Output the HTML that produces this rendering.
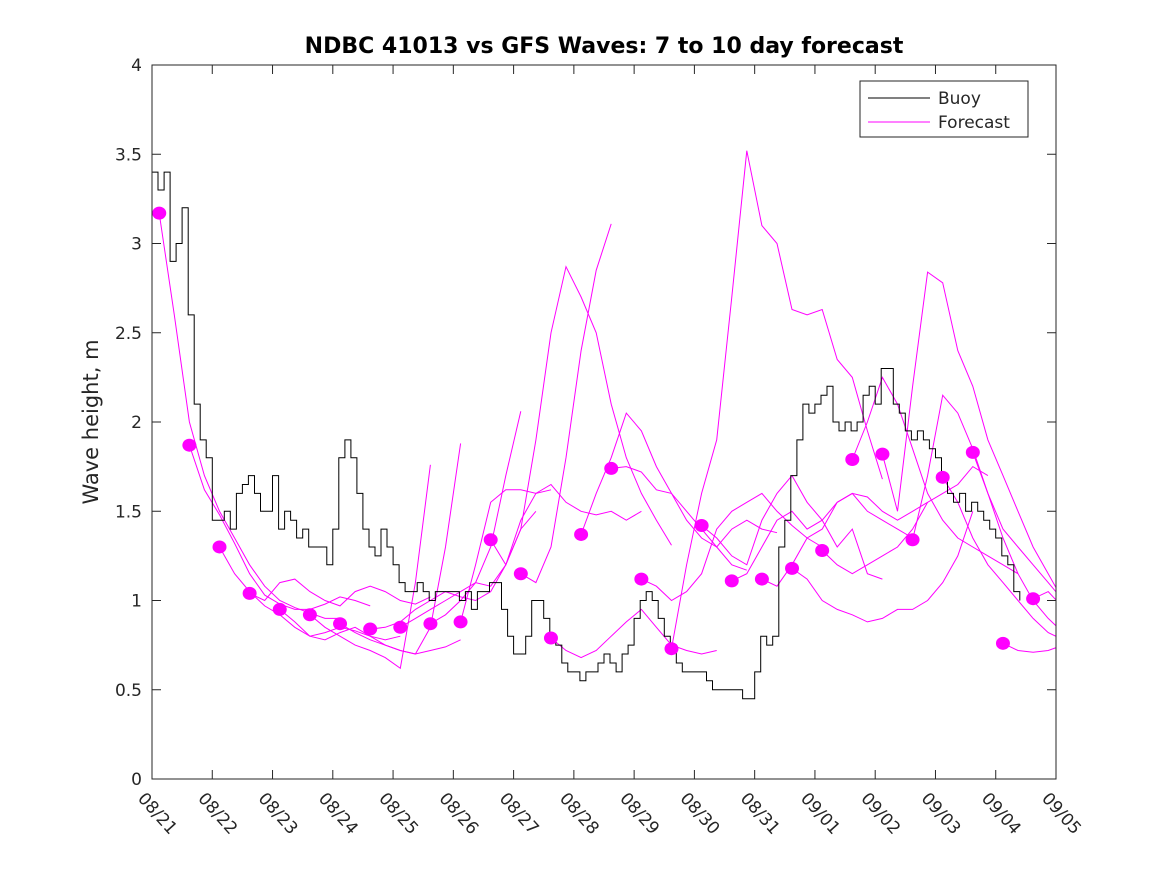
<!DOCTYPE html>
<html><head><meta charset="utf-8"><style>
html,body{margin:0;padding:0;background:#fff;}
svg{display:block;font-family:"DejaVu Sans","Liberation Sans",sans-serif;}
</style></head><body>
<svg id="chart" width="1167" height="875" viewBox="0 0 1167 875" xmlns="http://www.w3.org/2000/svg">
<rect width="1167" height="875" fill="#fff"/>
<defs><clipPath id="clip"><rect x="152" y="65" width="904" height="714"/></clipPath></defs>
<text x="604" y="53" text-anchor="middle" font-size="22" font-weight="bold" fill="#000">NDBC 41013 vs GFS Waves: 7 to 10 day forecast</text>
<text transform="translate(98,422) rotate(-90)" text-anchor="middle" font-size="21" fill="#262626">Wave height, m</text>
<g id="axes"></g>
<g id="plot" clip-path="url(#clip)"></g>
<rect x="152" y="65" width="904" height="714" fill="none" stroke="#262626" stroke-width="1"/>
<g>
<rect x="860" y="81" width="168" height="56" fill="#fff" stroke="#262626" stroke-width="1"/>
<line x1="868" y1="98" x2="930" y2="98" stroke="#000" stroke-width="1"/>
<text x="938" y="104" font-size="17" fill="#262626">Buoy</text>
<line x1="868" y1="122" x2="930" y2="122" stroke="#ff00ff" stroke-width="1"/>
<text x="938" y="128" font-size="17" fill="#262626">Forecast</text>
</g>
</svg>
<script>
const xTickLabels = ["08/21","08/22","08/23","08/24","08/25","08/26","08/27","08/28","08/29","08/30","08/31","09/01","09/02","09/03","09/04","09/05"];
const yTicks = [0,0.5,1,1.5,2,2.5,3,3.5,4];
const yTickLabels = ["0","0.5","1","1.5","2","2.5","3","3.5","4"];
const buoyStartDay = 0;
const buoyStep = 0.1;
const buoyVals = [3.4,3.3,3.4,2.9,3.0,3.2,2.6,2.1,1.9,1.8,1.45,1.45,1.5,1.4,1.6,1.65,1.7,1.6,1.5,1.5,1.7,1.4,1.5,1.45,1.35,1.4,1.3,1.3,1.3,1.2,1.4,1.8,1.9,1.8,1.6,1.4,1.3,1.25,1.4,1.3,1.2,1.1,1.05,1.05,1.1,1.05,1.0,1.05,1.05,1.05,1.05,1.0,1.05,0.95,1.05,1.05,1.1,1.1,0.95,0.8,0.7,0.7,0.8,1.0,1.0,0.9,0.8,0.75,0.65,0.6,0.6,0.55,0.6,0.6,0.65,0.7,0.65,0.6,0.7,0.75,0.9,1.0,1.05,1.0,0.9,0.8,0.75,0.65,0.6,0.6,0.6,0.6,0.55,0.5,0.5,0.5,0.5,0.5,0.45,0.45,0.6,0.8,0.75,0.8,1.3,1.45,1.7,1.9,2.1,2.05,2.1,2.15,2.2,2.0,1.95,2.0,1.95,2.0,2.15,2.2,2.1,2.3,2.3,2.1,2.05,1.95,1.9,1.95,1.9,1.85,1.8,1.7,1.6,1.55,1.6,1.5,1.55,1.5,1.45,1.4,1.35,1.25,1.2,1.05,1.0];
const dotDays = [0.12,0.62,1.12,1.62,2.12,2.62,3.12,3.62,4.12,4.62,5.12,5.62,6.12,6.62,7.12,7.62,8.12,8.62,9.12,9.62,10.12,10.62,11.12,11.62,12.12,12.62,13.12,13.62,14.12,14.62];
const dotVals = [3.17,1.87,1.30,1.04,0.95,0.92,0.87,0.84,0.85,0.87,0.88,1.34,1.15,0.79,1.37,1.74,1.12,0.73,1.42,1.11,1.12,1.18,1.28,1.79,1.82,1.34,1.69,1.83,0.76,1.01];
const fcStep = 0.25;
const fc00 = [3.17,2.6,2.0,1.7,1.5,1.35,1.2,1.08,1.0,0.96,0.93,0.9,0.9];
const fc01 = [1.87,1.62,1.48,1.32,1.15,1.03,0.98,0.95,0.95,0.98,1.02,1.0,0.97];
const fc02 = [1.30,1.15,1.05,0.97,0.92,0.85,0.8,0.82,0.85,0.83,0.8,0.78,0.8];
const fc03 = [1.04,1.0,1.1,1.12,1.05,1.0,0.97,1.05,1.08,1.05,1.0,0.98,1.02];
const fc04 = [0.95,0.88,0.8,0.78,0.82,0.85,0.8,0.75,0.72,0.7,0.72,0.74,0.78];
const fc05 = [0.92,0.85,0.8,0.75,0.72,0.68,0.62,1.1,1.76];
const fc06 = [0.87,0.82,0.78,0.75,0.72,0.7,0.85,1.3,1.88];
const fc07 = [0.84,0.85,0.88,0.95,1.0,1.05,1.02,1.0,1.05,1.2,1.45,1.6,1.62];
const fc08 = [0.85,0.9,0.95,1.0,1.05,1.1,1.08,1.2,1.4,1.5];
const fc09 = [0.87,0.92,1.0,1.1,1.3,1.7,2.06];
const fc10 = [0.88,1.2,1.55,1.62,1.62,1.6,1.65,1.55,1.5,1.48,1.5,1.45,1.5];
const fc11 = [1.34,1.2,1.4,1.9,2.5,2.87,2.7,2.5,2.1,1.8,1.6,1.45,1.31];
const fc12 = [1.15,1.1,1.3,1.8,2.4,2.85,3.11];
const fc13 = [0.79,0.72,0.68,0.72,0.8,0.88,0.95,0.85,0.75,0.72,0.7,0.72];
const fc14 = [1.37,1.6,1.8,2.05,1.95,1.75,1.6,1.5,1.4,1.3,1.2,1.17];
const fc15 = [1.74,1.75,1.72,1.62,1.6,1.45,1.35,1.3,1.4,1.45,1.4,1.38];
const fc16 = [1.12,1.08,1.0,1.05,1.15,1.4,1.5,1.55,1.6,1.5,1.42,1.35,1.3];
const fc17 = [0.73,1.2,1.6,1.9,2.7,3.52,3.1,3.0,2.63,2.6,2.63,2.35,2.25,1.95,1.68];
const fc18 = [1.42,1.35,1.25,1.2,1.45,1.6,1.7,1.55,1.45,1.3,1.4,1.15,1.12];
const fc19 = [1.11,1.15,1.3,1.45,1.5,1.4,1.45,1.55,1.6,1.5,1.45,1.4,1.35];
const fc20 = [1.12,1.08,1.2,1.35,1.4,1.55,1.6,1.58,1.5,1.45,1.5,1.55];
const fc21 = [1.18,1.12,1.0,0.95,0.92,0.88,0.9,0.95,0.95,1.0,1.1,1.25,1.5];
const fc22 = [1.28,1.2,1.15,1.2,1.25,1.3,1.4,1.55,1.6,1.65,1.75,1.7];
const fc23 = [1.79,2.0,2.25,2.1,1.85,1.6,1.45,1.35,1.3,1.25,1.2,1.15];
const fc24 = [1.82,1.5,2.2,2.84,2.78,2.4,2.2,1.9,1.7,1.5,1.3,1.15,1.0];
const fc25 = [1.34,1.7,2.15,2.05,1.85,1.6,1.4,1.3,1.2,1.1,1.0,0.95,0.9];
const fc26 = [1.69,1.55,1.35,1.2,1.1,1.0,0.9,0.82,0.78,0.8,0.75,0.7,0.7];
const fc27 = [1.83,1.6,1.35,1.15,1.0,0.9,0.82,0.8,0.75,0.72,0.7,0.75];
const fc28 = [0.76,0.72,0.71,0.72,0.75];
const fc29 = [1.01,1.05,0.96,0.95];
const forecasts = [fc00,fc01,fc02,fc03,fc04,fc05,fc06,fc07,fc08,fc09,fc10,fc11,fc12,fc13,fc14,fc15,fc16,fc17,fc18,fc19,fc20,fc21,fc22,fc23,fc24,fc25,fc26,fc27,fc28,fc29];

const X0=152, X1=1056, Y0=779, Y1=65, DAYS=15, YMAX=4;
function xs(d){return X0+(X1-X0)*d/DAYS;}
function ys(v){return Y0-(Y0-Y1)*v/YMAX;}
const NS="http://www.w3.org/2000/svg";
const axes=document.getElementById('axes');
const plot=document.getElementById('plot');
function mk(tag,attrs,parent){const e=document.createElementNS(NS,tag);for(const k in attrs)e.setAttribute(k,attrs[k]);parent.appendChild(e);return e;}

yTicks.forEach((v,i)=>{
  const y=ys(v);
  const t1=mk('line',{x1:X0,y1:y,x2:X0+9,y2:y,stroke:'#262626'},axes);
  
  
  const t2=mk('line',{x1:X1,y1:y,x2:X1-9,y2:y,stroke:'#262626'},axes);
  
  
  const tx=mk('text',{x:X0-10,y:y+6,'text-anchor':'end','font-size':17,fill:'#262626'},axes);
  tx.textContent=yTickLabels[i];
  
  
});
xTickLabels.forEach((lab,i)=>{
  const x=xs(i);
  const t1=mk('line',{x1:x,y1:Y0,x2:x,y2:Y0-9,stroke:'#262626'},axes);
  
  
  const t2=mk('line',{x1:x,y1:Y1,x2:x,y2:Y1+9,stroke:'#262626'},axes);
  
  
  const tx=mk('text',{transform:`translate(${x-15},${Y0+20}) rotate(48)`,'font-size':17,fill:'#262626'},axes);
  tx.textContent=lab;
  
  
});

forecasts.forEach((arr,i)=>{
  const pts=arr.map((v,j)=>xs(dotDays[i]+j*fcStep).toFixed(1)+','+ys(v).toFixed(1)).join(' ');
  const pl=mk('polyline',{points:pts,fill:'none',stroke:'#ff00ff','stroke-width':1},plot);
  
  
});

let bp=[];
buoyVals.forEach((v,j)=>{
  const x=xs(buoyStartDay+j*buoyStep), y=ys(v);
  if(j>0){bp.push(x.toFixed(1)+','+ys(buoyVals[j-1]).toFixed(1));}
  bp.push(x.toFixed(1)+','+y.toFixed(1));
});
const buoy=mk('polyline',{points:bp.join(' '),fill:'none',stroke:'#000','stroke-width':1},plot);



dotDays.forEach((d,i)=>{
  const c=mk('ellipse',{cx:xs(d),cy:ys(dotVals[i]),rx:7,ry:6.5,fill:'#ff00ff'},plot);
  
  
});
</script>
</body></html>
